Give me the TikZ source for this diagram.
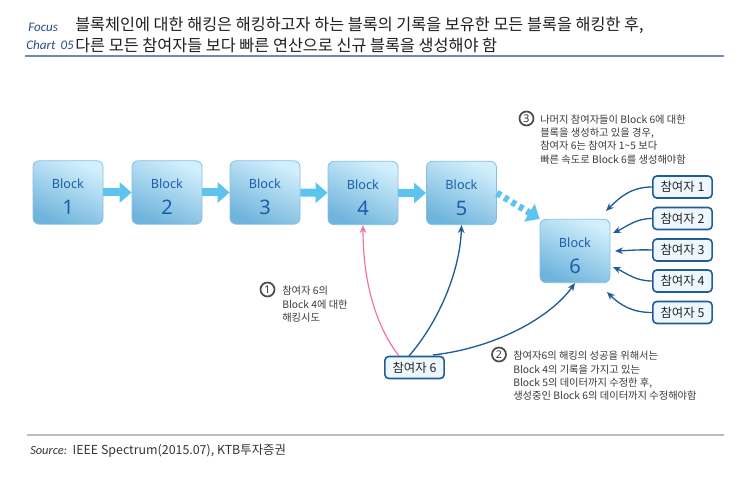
\documentclass[tikz,border=0pt]{standalone}
\usepackage{fontspec}
\setmainfont{Noto Sans CJK KR}
\newfontfamily\latfont{Noto Sans}
\newfontfamily\calfont{Carlito}
\usetikzlibrary{arrows.meta,calc}
\definecolor{hdrblue}{HTML}{2B4C8C}
\definecolor{hdrline}{HTML}{6F88B4}
\definecolor{blktext}{HTML}{1C5EA8}
\definecolor{blkborder}{HTML}{86BEE2}
\definecolor{blktop}{HTML}{D2EFFC}
\definecolor{blkbot}{HTML}{6FB4DC}
\definecolor{chainblue}{HTML}{5DC3EF}
\definecolor{pblue}{HTML}{1F5C99}
\definecolor{pfill}{HTML}{EEF7FD}
\definecolor{hackpink}{HTML}{F272AE}
\definecolor{notegray}{HTML}{3A3A3A}
\definecolor{footline}{HTML}{BDBDBD}
\tikzset{
  blk/.style={draw=blkborder, line width=0.6pt, rounded corners=4.5pt,
    top color=blktop, bottom color=blkbot, shading angle=-25,
    minimum width=52.5pt, minimum height=47.5pt, align=center,
    text=blktext, inner sep=0pt},
  chain/.style={draw=chainblue, line width=6pt,
    -{Triangle[length=9pt,width=15pt]}},
  dotchain/.style={draw=chainblue, line width=5pt, dash pattern=on 3.5pt off 3pt,
    -{Triangle[length=9pt,width=15pt]}},
  part/.style={draw=pblue, line width=1.2pt, fill=pfill, rounded corners=3pt,
    minimum width=44.5pt, minimum height=16.5pt, inner sep=0pt,
    font=\fontsize{9.3}{11}\selectfont, text=black!85},
  parr/.style={draw=pblue, line width=1pt, -{Stealth[length=6pt,width=5pt]}},
  pinkarr/.style={draw=hackpink, line width=0.9pt, -{Stealth[length=6pt,width=5pt]}},
  circnum/.style={circle, draw=black!70, line width=1.3pt, fill=white,
    minimum size=10.5pt, inner sep=0pt, font=\latfont\bfseries\fontsize{8}{8}\selectfont,
    text=black!80},
  note/.style={anchor=north west, align=left, inner sep=0pt, text=notegray,
    font=\fontsize{7.7}{10}\selectfont},
  hdrtag/.style={anchor=west, inner sep=0pt, text=hdrblue, font=\calfont\itshape\fontsize{9.8}{11}\selectfont},
  hdrtitle/.style={anchor=west, inner sep=0pt, text=black!88, font=\fontsize{12.2}{14}\selectfont},
}
\newcommand{\blocklabel}[1]{\rule{0pt}{14pt}{\latfont\fontsize{9.5}{11}\selectfont Block}\\[7.5pt]{\latfont\fontsize{15}{16}\selectfont #1}}
\begin{document}
\begin{tikzpicture}[x=0.75pt,y=-0.75pt]
\useasboundingbox (0,0) rectangle (740,484);
% header
\node[hdrtag] (focus) at (28,27) {Focus};
\node[hdrtag] (chart) at (26,45) {Chart\, 05};
\node[hdrtitle] (t1) at (75,25) {블록체인에 대한 해킹은 해킹하고자 하는 블록의 기록을 보유한 모든 블록을 해킹한 후,};
\node[hdrtitle] (t2) at (75,45) {다른 모든 참여자들 보다 빠른 연산으로 신규 블록을 생성해야 함};
\coordinate (hl1) at (25,56);
\coordinate (hl2) at (724,56);
\draw[hdrline, line width=1.6pt] (hl1) -- (hl2);
% blocks
\node[blk] (b1) at (68,192.5) {\blocklabel{1}};
\node[blk] (b2) at (167,192.5) {\blocklabel{2}};
\node[blk] (b3) at (265,192.5) {\blocklabel{3}};
\node[blk] (b4) at (363,193) {\blocklabel{4}};
\node[blk] (b5) at (461.5,193) {\blocklabel{5}};
\node[blk] (b6) at (575,251) {\blocklabel{6}};
\draw[chain] (b1) -- (b2);
\draw[chain] (b2) -- (b3);
\draw[chain] (b3) -- (b4);
\draw[chain] (b4) -- (b5);
\draw[dotchain] (b5.east) -- (b6.north west);
% participants
\node[part] (p1) at (682.5,187) {참여자 1};
\node[part] (p2) at (682.5,218.5) {참여자 2};
\node[part] (p3) at (682.5,250) {참여자 3};
\node[part] (p4) at (682.5,281) {참여자 4};
\node[part] (p5) at (682.5,312.5) {참여자 5};
\node[part] (p6) at (414.5,367.5) {참여자 6};
\coordinate (e1) at (606,211);
\coordinate (e2) at (613,233);
\coordinate (e3) at (615,251);
\coordinate (e4) at (613,267);
\coordinate (e5) at (607,292);
\draw[parr] (p1.west) to[out=180,in=45] (e1);
\draw[parr] (p2.west) to[out=180,in=25] (e2);
\draw[parr] (p3.west) to[out=178,in=2] (e3);
\draw[parr] (p4.west) to[out=180,in=-25] (e4);
\draw[parr] (p5.west) to[out=180,in=-45] (e5);
% hacking lines
\coordinate (s1) at (399,356);
\coordinate (s2) at (409,356);
\coordinate (s3) at (433,355);
\draw[pinkarr] (s1) .. controls (375,325) and (363,280) .. (b4.south);
\draw[parr] (s2) .. controls (440,320) and (460,270) .. (b5.south);
\draw[parr] (s3) .. controls (495,348) and (550,318) .. (b6.south);
% notes
\node[circnum] (c1) at (267.5,289.5) {1};
\node[note] (n1) at (282,286) {참여자 6의\\Block 4에 대한\\해킹시도};
\node[circnum] (c2) at (499,354.5) {2};
\node[note] (n2) at (513,351) {참여자6의 해킹의 성공을 위해서는\\Block 4의 기록을 가지고 있는\\Block 5의 데이터까지 수정한 후,\\생성중인 Block 6의 데이터까지 수정해야함};
\node[circnum] (c3) at (526.5,118.5) {3};
\node[note] (n3) at (540,114.5) {나머지 참여자들이 Block 6에 대한\\블록을 생성하고 있을 경우,\\참여자 6는 참여자 1\textasciitilde5 보다\\빠른 속도로 Block 6를 생성해야함};
% footer
\coordinate (fl1) at (27,435);
\coordinate (fl2) at (724,435);
\draw[footline, line width=1.5pt] (fl1) -- (fl2);
\node[anchor=west, inner sep=0pt, text=black!80, font=\fontsize{9.3}{10}\selectfont] (src) at (30,451) {{\calfont\itshape Source:}\ \ IEEE Spectrum(2015.07), KTB투자증권};
\end{tikzpicture}
\end{document}
